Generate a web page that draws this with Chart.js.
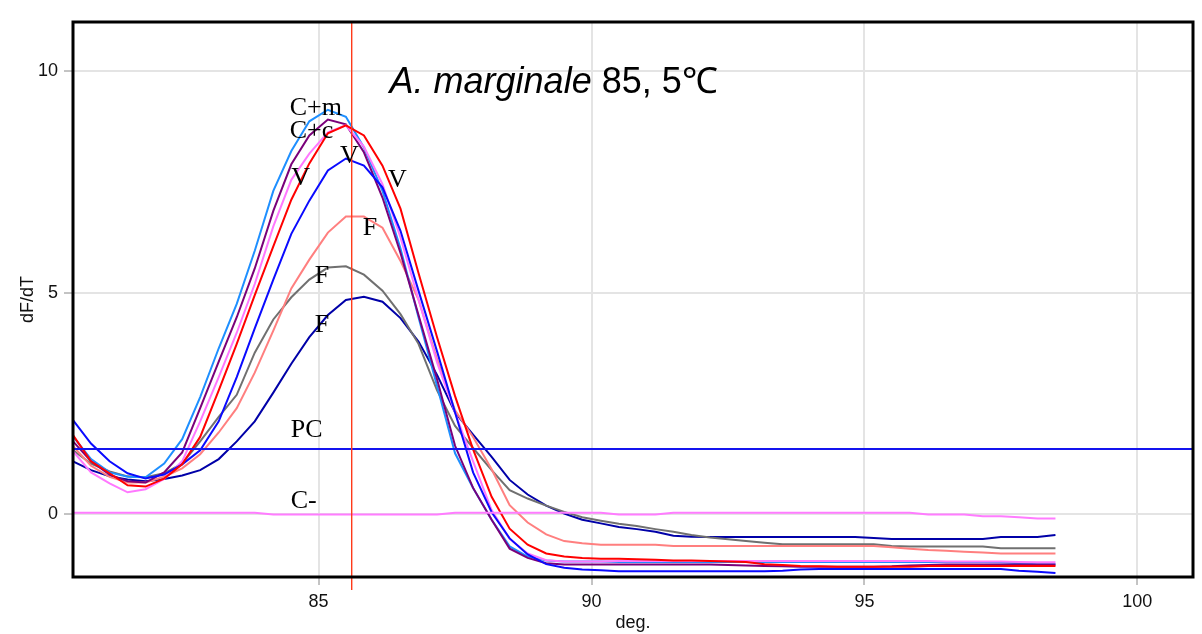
<!DOCTYPE html>
<html>
<head>
<meta charset="utf-8">
<script src="https://cdn.jsdelivr.net/npm/chart.js@4/dist/chart.umd.min.js"></script>
<style>
  html, body { margin: 0; padding: 0; background: #fff; }
  canvas { display: block; }
</style>
</head>
<body>
<canvas id="melt-chart" width="1202" height="634"></canvas>
<script>
// melt curve samples, one every 1/3 degree
const temps = [
  80.5, 80.83, 81.17, 81.5, 81.83, 82.17, 82.5, 82.83, 83.17, 83.5, 83.83,
  84.17, 84.5, 84.83, 85.17, 85.5, 85.83, 86.17, 86.5, 86.83, 87.17, 87.5,
  87.83, 88.17, 88.5, 88.83, 89.17, 89.5, 89.83, 90.17, 90.5, 90.83, 91.17,
  91.5, 91.83, 92.17, 92.5, 92.83, 93.17, 93.5, 93.83, 94.17, 94.5, 94.83,
  95.17, 95.5, 95.83, 96.17, 96.5, 96.83, 97.17, 97.5, 97.83, 98.17, 98.5
];

const cPlusM = [
  1.76, 1.25, 0.95, 0.85, 0.84, 1.15, 1.70, 2.65, 3.75, 4.75, 5.95,
  7.30, 8.20, 8.87, 9.13, 8.97, 8.28, 7.30, 6.00, 4.45, 2.90, 1.38,
  0.60, -0.12, -0.72, -0.95, -1.04, -1.06, -1.06, -1.06, -1.07, -1.07, -1.07,
  -1.07, -1.07, -1.07, -1.07, -1.07, -1.07, -1.07, -1.07, -1.07, -1.07, -1.07,
  -1.07, -1.07, -1.07, -1.07, -1.07, -1.07, -1.07, -1.08, -1.10, -1.12, -1.12
];
const cPlusC = [
  1.65, 1.20, 0.90, 0.75, 0.72, 0.95, 1.40, 2.40, 3.45, 4.45, 5.55,
  6.85, 7.90, 8.55, 8.91, 8.80, 8.17, 7.15, 5.90, 4.50, 3.05, 1.55,
  0.60, -0.12, -0.77, -0.98, -1.10, -1.13, -1.13, -1.13, -1.13, -1.13, -1.13,
  -1.13, -1.13, -1.13, -1.14, -1.15, -1.16, -1.17, -1.18, -1.18, -1.18, -1.18,
  -1.18, -1.17, -1.15, -1.14, -1.13, -1.13, -1.13, -1.13, -1.13, -1.13, -1.13
];
const sampleV1 = [
  1.43, 0.95, 0.70, 0.50, 0.57, 0.80, 1.20, 2.10, 3.10, 4.10, 5.20,
  6.50, 7.55, 8.14, 8.62, 8.78, 8.30, 7.45, 6.25, 4.85, 3.43, 2.30,
  1.20, 0.10, -0.55, -0.88, -1.03, -1.06, -1.06, -1.06, -1.05, -1.05, -1.05,
  -1.05, -1.05, -1.05, -1.05, -1.05, -1.05, -1.05, -1.05, -1.05, -1.05, -1.05,
  -1.05, -1.05, -1.05, -1.05, -1.06, -1.06, -1.06, -1.06, -1.07, -1.08, -1.08
];
const sampleV2 = [
  1.79, 1.20, 0.93, 0.66, 0.63, 0.81, 1.13, 1.75, 2.80, 3.85, 4.95,
  6.05, 7.10, 7.92, 8.60, 8.78, 8.55, 7.87, 6.90, 5.45, 4.00, 2.67,
  1.47, 0.40, -0.32, -0.68, -0.88, -0.95, -0.98, -1.00, -1.00, -1.01, -1.02,
  -1.04, -1.04, -1.05, -1.06, -1.07, -1.12, -1.14, -1.16, -1.17, -1.18, -1.18,
  -1.18, -1.18, -1.18, -1.16, -1.16, -1.16, -1.16, -1.16, -1.16, -1.16, -1.16
];
const sampleV3 = [
  2.13, 1.60, 1.20, 0.93, 0.81, 0.90, 1.13, 1.45, 2.10, 3.10, 4.20,
  5.30, 6.33, 7.08, 7.76, 8.03, 7.87, 7.38, 6.40, 5.05, 3.68, 2.30,
  0.95, 0.05, -0.54, -0.90, -1.12, -1.20, -1.24, -1.26, -1.28, -1.28, -1.28,
  -1.28, -1.28, -1.28, -1.28, -1.28, -1.28, -1.27, -1.24, -1.23, -1.23, -1.23,
  -1.23, -1.23, -1.23, -1.23, -1.23, -1.23, -1.23, -1.23, -1.27, -1.29, -1.32
];
const sampleF1 = [
  1.54, 1.10, 0.85, 0.72, 0.72, 0.85, 1.04, 1.36, 1.85, 2.40, 3.20,
  4.15, 5.10, 5.75, 6.36, 6.72, 6.72, 6.47, 5.72, 4.85, 3.50, 2.35,
  1.75, 1.02, 0.21, -0.18, -0.45, -0.60, -0.65, -0.68, -0.68, -0.68, -0.68,
  -0.71, -0.71, -0.71, -0.71, -0.71, -0.71, -0.71, -0.71, -0.71, -0.71, -0.71,
  -0.71, -0.74, -0.77, -0.80, -0.82, -0.84, -0.86, -0.88, -0.88, -0.88, -0.88
];
const sampleF2 = [
  1.45, 1.15, 0.97, 0.86, 0.84, 0.93, 1.15, 1.65, 2.20, 2.70, 3.65,
  4.40, 4.90, 5.30, 5.57, 5.60, 5.41, 5.05, 4.52, 3.85, 2.80, 2.00,
  1.50, 1.00, 0.55, 0.36, 0.20, 0.06, -0.06, -0.14, -0.21, -0.26, -0.33,
  -0.39, -0.46, -0.52, -0.56, -0.60, -0.64, -0.67, -0.67, -0.67, -0.67, -0.67,
  -0.67, -0.71, -0.72, -0.72, -0.72, -0.72, -0.72, -0.76, -0.76, -0.76, -0.76
];
const sampleF3 = [
  1.20, 1.00, 0.86, 0.79, 0.75, 0.80, 0.88, 1.00, 1.25, 1.65, 2.10,
  2.75, 3.40, 4.00, 4.50, 4.84, 4.91, 4.80, 4.43, 3.90, 3.15, 2.30,
  1.80, 1.30, 0.78, 0.45, 0.20, 0.02, -0.12, -0.20, -0.28, -0.33, -0.39,
  -0.48, -0.50, -0.51, -0.51, -0.51, -0.51, -0.51, -0.51, -0.51, -0.51, -0.51,
  -0.53, -0.55, -0.55, -0.55, -0.55, -0.55, -0.55, -0.51, -0.51, -0.51, -0.46
];
const cNeg = [
  0.04, 0.04, 0.04, 0.04, 0.04, 0.04, 0.04, 0.04, 0.04, 0.04, 0.04,
  0.00, 0.00, 0.00, 0.00, 0.00, 0.00, 0.00, 0.00, 0.00, 0.00, 0.04,
  0.04, 0.04, 0.04, 0.04, 0.04, 0.04, 0.04, 0.04, 0.00, 0.00, 0.00,
  0.04, 0.04, 0.04, 0.04, 0.04, 0.04, 0.04, 0.04, 0.04, 0.04, 0.04,
  0.04, 0.04, 0.04, 0.00, 0.00, 0.00, -0.04, -0.04, -0.06, -0.09, -0.09
];

// threshold line (PC) and melt temperature marker
const pcX = [80.5, 101.02];
const pcLevel = 1.48;
const markerTemp = 85.6;

const xTicks = [85, 90, 95, 100];
const yTicks = [0, 5, 10];

// curve labels written on the plot (data units)
const labelText = ['C+m', 'C+c', 'V', 'V', 'V', 'F', 'F', 'F', 'PC', 'C-'];
const labelX = [84.47, 84.47, 84.5, 85.39, 86.27, 85.81, 84.93, 84.93, 84.49, 84.49];
const labelY = [9.02, 8.5, 7.44, 7.93, 7.39, 6.31, 5.23, 4.12, 1.75, 0.15];

const titleItalic = 'A. marginale';
const titleRest = ' 85, 5\u2103';
const titleX = 86.3, titleY = 9.5;

const FONT = '"Liberation Sans", Arial, sans-serif';

function pts(arr) {
  return temps.map((t, i) => ({ x: t, y: arr[i] }));
}

function curve(values, color, order) {
  return { data: pts(values), borderColor: color, borderWidth: 2, order: order };
}

const overlay = {
  id: 'overlay',
  afterDatasetsDraw(chart) {
    const ctx = chart.ctx;
    const a = chart.chartArea;
    const x = chart.scales.x, y = chart.scales.y;
    ctx.save();

    // marker line
    const mx = Math.round(x.getPixelForValue(markerTemp));
    ctx.fillStyle = '#ff3a1a';
    ctx.fillRect(mx, a.top, 1.4, a.bottom + 13 - a.top);

    // frame
    ctx.strokeStyle = '#000';
    ctx.lineWidth = 3;
    ctx.strokeRect(a.left, a.top, a.right - a.left, a.bottom - a.top);

    // labels
    ctx.fillStyle = '#000';
    ctx.textBaseline = 'alphabetic';
    ctx.textAlign = 'left';
    ctx.font = '26px "Liberation Serif", "Times New Roman", serif';
    labelText.forEach((t, i) => {
      ctx.fillText(t, x.getPixelForValue(labelX[i]), y.getPixelForValue(labelY[i]));
    });

    // title
    const tx = x.getPixelForValue(titleX);
    const ty = y.getPixelForValue(titleY);
    ctx.font = 'italic 36px ' + FONT;
    ctx.fillText(titleItalic, tx, ty);
    const w = ctx.measureText(titleItalic).width;
    ctx.font = '36px ' + FONT;
    ctx.fillText(titleRest, tx + w, ty);

    ctx.restore();
  }
};

new Chart(document.getElementById('melt-chart'), {
  type: 'line',
  data: {
    datasets: [
      { data: pcX.map(v => ({ x: v, y: pcLevel })), borderColor: '#1414ee', borderWidth: 2, order: 0 },
      curve(cNeg, '#ff7cff', 1),
      curve(sampleV2, '#ff0000', 2),
      curve(sampleV3, '#0a0aff', 3),
      curve(sampleV1, '#ff78ff', 4),
      curve(cPlusC, '#7a007a', 5),
      curve(cPlusM, '#1e8fff', 6),
      curve(sampleF1, '#ff7f7f', 7),
      curve(sampleF2, '#707070', 8),
      curve(sampleF3, '#0000a8', 9)
    ]
  },
  options: {
    responsive: false,
    animation: false,
    layout: { padding: { top: 22, right: 9, left: 0, bottom: 0 } },
    elements: { point: { radius: 0 }, line: { tension: 0 } },
    plugins: { legend: { display: false }, tooltip: { enabled: false } },
    scales: {
      x: {
        type: 'linear',
        min: 80.5,
        max: 101.02,
        afterBuildTicks: s => { s.ticks = xTicks.map(v => ({ value: v })); },
        afterFit: s => { s.height = 57; },
        grid: { color: '#e4e4e4', lineWidth: 2, tickColor: '#888', tickLength: 8, tickWidth: 1 },
        border: { display: false },
        ticks: { padding: 6, color: '#111', font: { family: FONT, size: 18 } },
        title: { display: true, text: 'deg.', color: '#111', font: { family: FONT, size: 18 }, padding: { top: 0, bottom: 0 } }
      },
      y: {
        min: -1.41,
        max: 11.11,
        afterBuildTicks: s => { s.ticks = yTicks.map(v => ({ value: v })); },
        afterFit: s => { s.width = 73; },
        grid: { color: '#e4e4e4', lineWidth: 2, tickColor: '#888', tickLength: 9, tickWidth: 1 },
        border: { display: false },
        ticks: { padding: 6, color: '#111', font: { family: FONT, size: 18 } },
        title: { display: true, text: 'dF/dT', color: '#111', font: { family: FONT, size: 18 }, padding: { top: 17, bottom: 0 } }
      }
    }
  },
  plugins: [overlay]
});
</script>
</body>
</html>
